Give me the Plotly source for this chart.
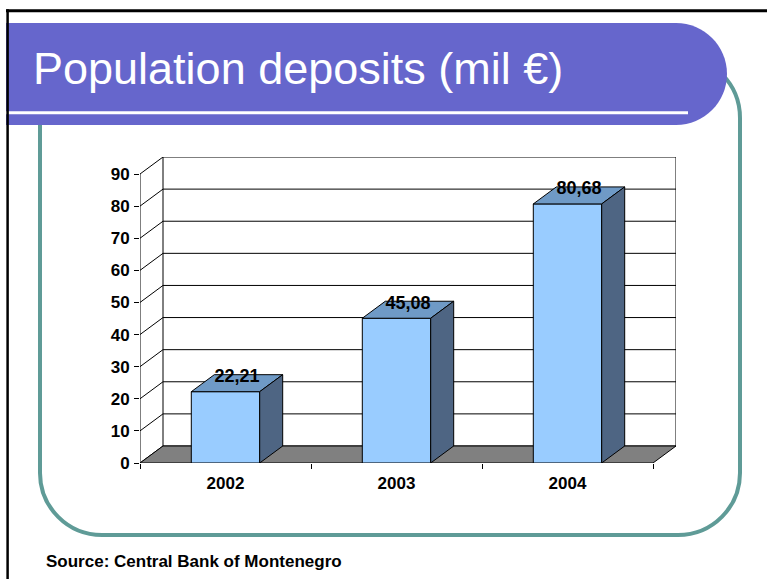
import plotly.graph_objects as go

# ---------------- data ----------------
years = ["2002", "2003", "2004"]
deposits = [22.21, 45.08, 80.68]
value_labels = ["22,21", "45,08", "80,68"]
y_ticks = [0, 10, 20, 30, 40, 50, 60, 70, 80, 90]

title_text = "Population deposits (mil €)"
source_text = "Source: Central Bank of Montenegro"

# ---------------- geometry / style ----------------
W, H = 767, 579
L, R, T, B = 140, 676, 157, 463          # plot frame (pixels)
DEPTH_PX_X, DEPTH_PX_Y = 23, 17          # 3-D depth offset (pixels)
YMAX = y_ticks[-1]
n = len(years)
xu = (R - DEPTH_PX_X - L) / n            # px per category
yu = (B - (T + DEPTH_PX_Y)) / YMAX       # px per value unit
DX = DEPTH_PX_X / xu
DY = DEPTH_PX_Y / yu
XR = [0, n + DX]
YR = [0, YMAX + DY]
BAR_W = 0.4
LABEL_DROP = 3 / yu

FRONT = "#99CCFF"
TOP = "#6F9AC6"
SIDE = "#4E6583"
FLOOR = "#808080"
PURPLE = "#6666CC"
TEAL = "#5F9B97"
FONT = "Liberation Sans, Arial, sans-serif"


def px2x(px):
    return (px - L) / (R - L)


def py2y(py):
    return (B - py) / (B - T)


def P(px, py):
    return f"{px2x(px):.5f},{py2y(py):.5f}"


K = 0.5523

fig = go.Figure()

# ---------- background: back wall, grid, left wall lines, floor ----------
fig.add_trace(go.Scatter(
    x=[DX, n + DX, n + DX, DX, DX],
    y=[DY, DY, YMAX + DY, YMAX + DY, DY],
    mode="lines", fill="toself", fillcolor="white",
    line=dict(color="black", width=1), cliponaxis=False, hoverinfo="skip"))

gx, gy = [], []
for k in y_ticks[1:-1]:
    gx += [DX, n + DX, None]
    gy += [k + DY, k + DY, None]
fig.add_trace(go.Scatter(x=gx, y=gy, mode="lines",
                         line=dict(color="black", width=1),
                         cliponaxis=False, hoverinfo="skip"))

dx_, dy_ = [], []
for k in y_ticks:
    dx_ += [0, DX, None]
    dy_ += [k, k + DY, None]
fig.add_trace(go.Scatter(x=dx_, y=dy_, mode="lines",
                         line=dict(color="black", width=1),
                         cliponaxis=False, hoverinfo="skip"))

fig.add_trace(go.Scatter(x=[0, 0], y=[0, YMAX], mode="lines",
                         line=dict(color="black", width=1),
                         cliponaxis=False, hoverinfo="skip"))

fig.add_trace(go.Scatter(
    x=[0, n, n + DX, DX, 0], y=[0, 0, DY, DY, 0],
    mode="lines", fill="toself", fillcolor=FLOOR,
    line=dict(color="black", width=1), cliponaxis=False, hoverinfo="skip"))

# ---------- bars (overlay subplot so they sit above the background) ----------
centers = [i + 0.5 for i in range(n)]
fig.add_trace(go.Bar(
    x=centers, y=deposits, width=BAR_W, xaxis="x2", yaxis="y2",
    marker=dict(color=FRONT, line=dict(color="black", width=1)),
    cliponaxis=False, hoverinfo="skip"))

tx, ty, sx, sy = [], [], [], []
for c, v in zip(centers, deposits):
    a, b = c - BAR_W / 2, c + BAR_W / 2
    tx += [a, b, b + DX, a + DX, a, None]
    ty += [v, v, v + DY, v + DY, v, None]
    sx += [b, b + DX, b + DX, b, b, None]
    sy += [0, DY, v + DY, v, 0, None]
fig.add_trace(go.Scatter(x=tx, y=ty, xaxis="x2", yaxis="y2", mode="lines",
                         fill="toself", fillcolor=TOP,
                         line=dict(color="black", width=1),
                         cliponaxis=False, hoverinfo="skip"))
fig.add_trace(go.Scatter(x=sx, y=sy, xaxis="x2", yaxis="y2", mode="lines",
                         fill="toself", fillcolor=SIDE,
                         line=dict(color="black", width=1),
                         cliponaxis=False, hoverinfo="skip"))

fig.add_trace(go.Scatter(
    x=[c + DX / 2 for c in centers],
    y=[v + DY - LABEL_DROP for v in deposits],
    xaxis="x2", yaxis="y2", mode="text", text=value_labels,
    textposition="middle center",
    textfont=dict(family=FONT, size=18, color="black", weight="bold"),
    cliponaxis=False, hoverinfo="skip"))

# ---------- slide decoration ----------
shapes = []
# teal rounded rectangle
x0, x1, y0, y1, r = 40, 740, 56, 535, 62
path = (f"M{P(x0 + r, y0)} L{P(x1 - r, y0)} "
        f"C{P(x1 - r + K * r, y0)} {P(x1, y0 + r - K * r)} {P(x1, y0 + r)} "
        f"L{P(x1, y1 - r)} "
        f"C{P(x1, y1 - r + K * r)} {P(x1 - r + K * r, y1)} {P(x1 - r, y1)} "
        f"L{P(x0 + r, y1)} "
        f"C{P(x0 + r - K * r, y1)} {P(x0, y1 - r + K * r)} {P(x0, y1 - r)} "
        f"L{P(x0, y0 + r)} "
        f"C{P(x0, y0 + r - K * r)} {P(x0 + r - K * r, y0)} {P(x0 + r, y0)} Z")
shapes.append(dict(type="path", xref="paper", yref="paper", path=path,
                   line=dict(color=TEAL, width=4), fillcolor="rgba(0,0,0,0)",
                   layer="below"))
# purple title bar with rounded right end
cx, cy, rr = 676, 74, 51
path = (f"M{P(6, cy - rr)} L{P(cx, cy - rr)} "
        f"C{P(cx + K * rr, cy - rr)} {P(cx + rr, cy - K * rr)} {P(cx + rr, cy)} "
        f"C{P(cx + rr, cy + K * rr)} {P(cx + K * rr, cy + rr)} {P(cx, cy + rr)} "
        f"L{P(6, cy + rr)} Z")
shapes.append(dict(type="path", xref="paper", yref="paper", path=path,
                   line=dict(width=0), fillcolor=PURPLE, layer="below"))
# white rule under title
shapes.append(dict(type="line", xref="paper", yref="paper",
                   x0=px2x(6), x1=px2x(688), y0=py2y(112.7), y1=py2y(112.7),
                   line=dict(color="white", width=3), layer="below"))
# slide border (top and left)
shapes.append(dict(type="line", xref="paper", yref="paper",
                   x0=px2x(6), x1=px2x(W + 2), y0=py2y(10.7), y1=py2y(10.7),
                   line=dict(color="black", width=3), layer="below"))
shapes.append(dict(type="line", xref="paper", yref="paper",
                   x0=px2x(7.6), x1=px2x(7.6), y0=py2y(9.3), y1=py2y(H + 2),
                   line=dict(color="black", width=2.5), layer="below"))

annotations = [
    dict(text=title_text, xref="paper", yref="paper",
         x=px2x(31), y=py2y(69), xanchor="left", yanchor="middle",
         showarrow=False, font=dict(family=FONT, size=45, color="white")),
    dict(text=source_text, xref="paper", yref="paper",
         x=px2x(44), y=py2y(561), xanchor="left", yanchor="middle",
         showarrow=False,
         font=dict(family=FONT, size=17, color="black", weight="bold")),
]

fig.update_layout(
    width=W, height=H,
    margin=dict(l=L, r=W - R, t=T, b=H - B, pad=0),
    paper_bgcolor="white", plot_bgcolor="rgba(0,0,0,0)",
    showlegend=False,
    shapes=shapes, annotations=annotations,
    xaxis=dict(range=XR, tickmode="array", tickvals=centers, ticktext=years,
               ticks="", showline=False, showgrid=False, zeroline=False,
               tickfont=dict(family=FONT, size=17, color="black", weight="bold"),
               minor=dict(tickmode="array", tickvals=list(range(n + 1)),
                          ticks="outside", ticklen=5, tickcolor="black",
                          tickwidth=1, showgrid=False),
               ticklabelstandoff=8, fixedrange=True),
    yaxis=dict(range=YR, tickmode="array", tickvals=y_ticks,
               ticks="outside", ticklen=5, tickcolor="black", tickwidth=1,
               showline=False, showgrid=False, zeroline=False,
               tickfont=dict(family=FONT, size=17, color="black", weight="bold"),
               ticklabelstandoff=1, fixedrange=True),
    xaxis2=dict(range=XR, overlaying="x", visible=False, fixedrange=True),
    yaxis2=dict(range=YR, overlaying="y", visible=False, fixedrange=True),
)

fig.write_html(
    "out.html",
    config={"displayModeBar": False},
    post_script="document.body.style.margin='0px';"
                "document.documentElement.style.overflow='hidden';",
)
